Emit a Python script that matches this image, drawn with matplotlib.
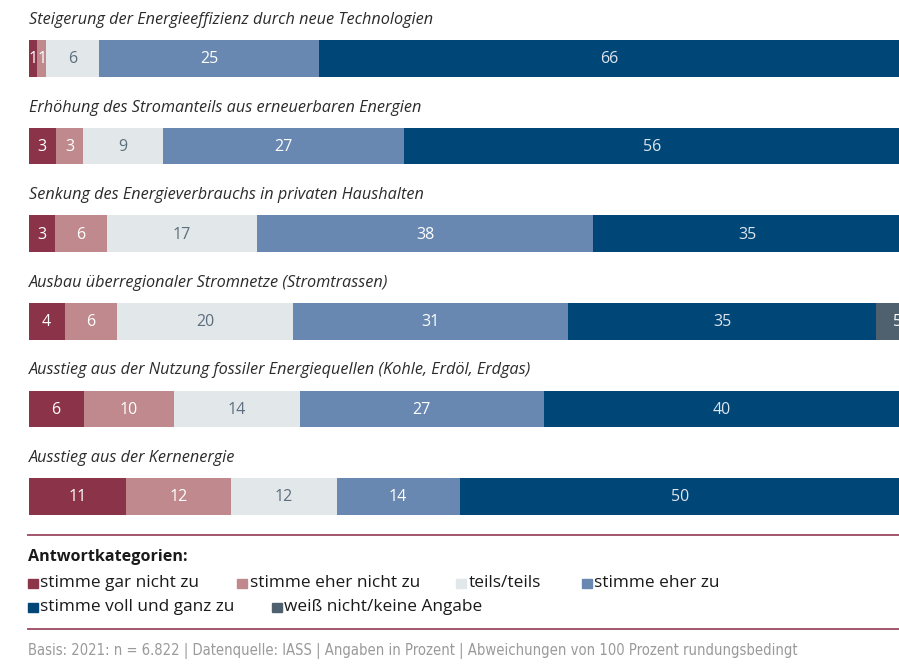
import matplotlib
matplotlib.use("Agg")
import matplotlib.pyplot as plt
from matplotlib.patches import Rectangle
from matplotlib.lines import Line2D

# ---------------- data ----------------
statements = [
    "Steigerung der Energieeffizienz durch neue Technologien",
    "Erhöhung des Stromanteils aus erneuerbaren Energien",
    "Senkung des Energieverbrauchs in privaten Haushalten",
    "Ausbau überregionaler Stromnetze (Stromtrassen)",
    "Ausstieg aus der Nutzung fossiler Energiequellen (Kohle, Erdöl, Erdgas)",
    "Ausstieg aus der Kernenergie",
]
categories = [
    "stimme gar nicht zu",
    "stimme eher nicht zu",
    "teils/teils",
    "stimme eher zu",
    "stimme voll und ganz zu",
    "weiß nicht/keine Angabe",
]
# printed (rounded) labels per statement and category
gar_nicht_lbl = [1, 3, 3, 4, 6, 11]
eher_nicht_lbl = [1, 3, 6, 6, 10, 12]
teils_lbl = [6, 9, 17, 20, 14, 12]
eher_zu_lbl = [25, 27, 38, 31, 27, 14]
voll_lbl = [66, 56, 35, 35, 40, 50]
weiss_lbl = [None, None, None, 5, None, None]

# segment shares (unrounded)
gar_nicht = [1.0, 3.1, 3.0, 4.1, 6.25, 11.1]
eher_nicht = [1.0, 3.1, 5.9, 5.9, 10.3, 11.9]
teils = [6.0, 9.1, 17.1, 20.1, 14.3, 12.0]
eher_zu = [25.0, 27.4, 38.1, 31.2, 27.7, 14.0]
voll = [66.0, 56.4, 35.2, 35.0, 40.4, 50.0]
weiss = [0.0, 0.0, 0.0, 5.0, 0.0, 0.0]

colors = ["#8a3349", "#bf898d", "#e2e7ea", "#6888b2", "#004677", "#4f616e"]
text_colors = ["white", "white", "#5d6e7c", "white", "#dde6ef", "white"]

series = [gar_nicht, eher_nicht, teils, eher_zu, voll, weiss]
labels = [gar_nicht_lbl, eher_nicht_lbl, teils_lbl, eher_zu_lbl, voll_lbl, weiss_lbl]

# ---------------- figure ----------------
W, H = 899, 667
fig = plt.figure(figsize=(W / 100, H / 100), dpi=100)
FONT = ["Open Sans", "DejaVu Sans"]
plt.rcParams["font.family"] = FONT

def fx(px):
    return px / W

def fy(py):
    return 1 - py / H

ax = fig.add_axes([fx(28.5), fy(540.3), 1 - fx(28.5), fy(14.7) - fy(540.3)])
ax.set_xlim(0, 870.5 / 8.8)
ax.set_ylim(5.5, -0.5)
ax.axis("off")

n = len(statements)
left = [0.0] * n
for s, lbls, c, tc in zip(series, labels, colors, text_colors):
    ax.barh(range(n), s, left=left, height=0.42, color=c, edgecolor="none")
    for i in range(n):
        if lbls[i] is not None:
            ax.text(left[i] + s[i] / 2, i + 0.01, str(lbls[i]), ha="center", va="center",
                    color=tc, fontsize=11.5, clip_on=True)
    left = [l + v for l, v in zip(left, s)]

for i, st in enumerate(statements):
    ax.text(0, i - 0.44, st, ha="left", va="center", fontsize=11.7, style="italic",
            color="#2b2b2b", clip_on=False)

# divider lines
for py in (535, 629):
    fig.add_artist(Line2D([fx(28), 1], [fy(py), fy(py)], color="#a3566c", lw=1.4))

fig.text(fx(28), fy(557), "Antwortkategorien:", fontsize=11.6, fontweight="bold",
         color="#1a1a1a", va="center", ha="left")

legend_pos = [(28, 582), (237, 582), (456, 582), (582, 582), (28, 606), (272, 606)]
for (px, py), cat, c in zip(legend_pos, categories, colors):
    fig.add_artist(Rectangle((fx(px), fy(py + 6)), fx(9.5), 9.5 / H, color=c,
                             transform=fig.transFigure))
    fig.text(fx(px + 12.5), fy(py + 1), cat, fontsize=12.4, color="#1a1a1a",
             va="center", ha="left")

fig.text(fx(28), fy(651),
         "Basis: 2021: n = 6.822 | Datenquelle: IASS | Angaben in Prozent | Abweichungen von 100 Prozent rundungsbedingt",
         fontsize=10.65, color="#9a9a9a", va="center", ha="left",
         family=["DejaVu Sans"], stretch="condensed")

fig.savefig("out.png", dpi=100)
